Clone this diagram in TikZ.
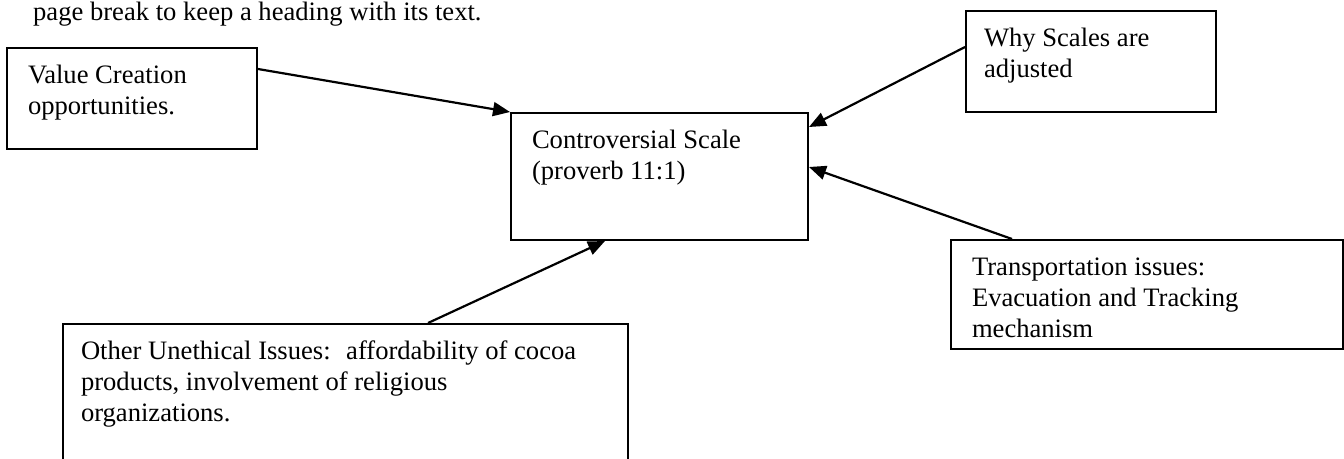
\documentclass[tikz,border=0pt]{standalone}
\usepackage{fontspec}
\setmainfont{Liberation Serif}
\usetikzlibrary{arrows.meta,calc}
\newcommand{\boxtxt}[4]{\parbox[t][#2][t]{#1}{\raggedright\leftskip=#3\relax\rule{0pt}{35pt}#4}}
\begin{document}
\begin{tikzpicture}[x=1pt,y=-1pt,
  every node/.style={font=\fontsize{26.6}{31}\selectfont},
  boxnode/.style={draw, line width=2pt, inner sep=0pt, anchor=north west},
  arr/.style={line width=2.2pt, -{Triangle[length=17pt,width=14pt]}}]
\useasboundingbox (0,0) rectangle (1344,458);
\node[anchor=base west, inner sep=0pt] (head) at (33,20) {page break to keep a heading with its text.};
\node[boxnode] (V) at (6,47) {\boxtxt{250pt}{101pt}{21pt}{Value Creation\\opportunities.}};
\node[boxnode] (C) at (510,112) {\boxtxt{297pt}{127pt}{21pt}{Controversial Scale\\(proverb 11:1)}};
\node[boxnode] (W) at (965,10) {\boxtxt{250pt}{101pt}{18pt}{Why Scales are\\adjusted}};
\node[boxnode] (T) at (950,239) {\boxtxt{392pt}{109pt}{21pt}{Transportation issues:\\Evacuation and Tracking\\mechanism}};
\node[boxnode] (O) at (62,323) {\boxtxt{565pt}{150pt}{18pt}{Other Unethical Issues:~ affordability of cocoa\\products, involvement of religious\\organizations.}};
\draw[arr] ($(V.north east)+(0,22)$) -- (C.north west);
\draw[arr] ($(W.north west)+(0,37)$) -- ($(C.north east)+(0,15)$);
\draw[arr] ($(T.north west)+(62,0)$) -- ($(C.north east)+(0,55)$);
\draw[arr] ($(O.north west)+(366,0)$) -- ($(C.south west)+(95,0)$);
\end{tikzpicture}
\end{document}
